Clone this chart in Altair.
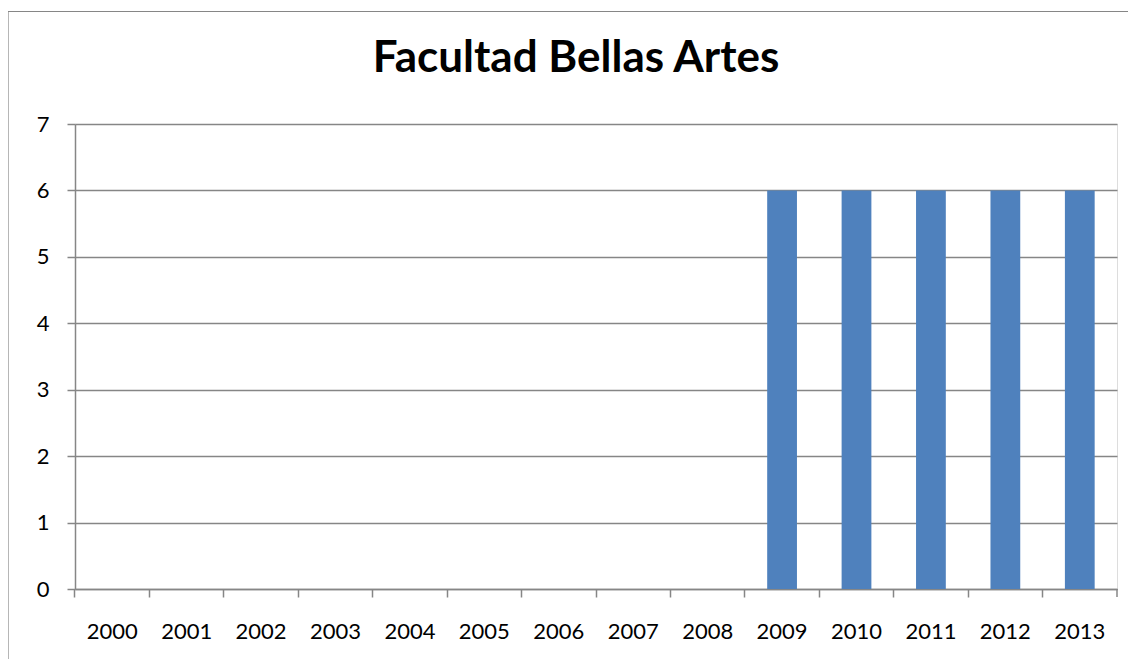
import altair as alt
import pandas as pd

years = [str(y) for y in range(2000, 2014)]
values = [0, 0, 0, 0, 0, 0, 0, 0, 0, 6, 6, 6, 6, 6]
title_text = "Facultad Bellas Artes"

df = pd.DataFrame({"year": years, "value": values})

W, H = 1042, 465
GRAY = "#868686"
LW = 1.5
FONT = "Lato"

bars = alt.Chart(df).mark_bar(color="#4F81BD").encode(
    x=alt.X("year:N", sort=years, title=None,
            scale=alt.Scale(paddingInner=0.6, paddingOuter=0.3),
            axis=alt.Axis(labelAngle=0, bandPosition=-0.75, tickSize=8, tickColor=GRAY,
                          tickWidth=LW, domainWidth=LW,
                          domainColor=GRAY, labelFont=FONT, labelFontSize=22,
                          labelColor="#000000", labelPadding=24, grid=False)),
    y=alt.Y("value:Q", title=None,
            scale=alt.Scale(domain=[0, 7], nice=False),
            axis=alt.Axis(values=list(range(0, 8)), tickSize=8, tickColor=GRAY,
                          tickWidth=LW, domainWidth=LW, gridWidth=LW,
                          domainColor=GRAY, gridColor=GRAY, gridOpacity=1,
                          labelFont=FONT, labelFontSize=22, labelColor="#000000",
                          labelPadding=18)),
)

frame = alt.Chart(alt.Data(values=[{"k": 1}])).mark_rect(
    fill=None, stroke=GRAY, strokeWidth=1.2
).encode(
    x=alt.value(-67), x2=alt.value(W + 200),
    y=alt.value(-112.5), y2=alt.value(H + 200),
)

end_tick = alt.Chart(alt.Data(values=[{"k": 1}])).mark_rule(color=GRAY, strokeWidth=LW).encode(
    x=alt.value(W), y=alt.value(H), y2=alt.value(H + 8)
)

chart = alt.layer(frame, bars, end_tick).properties(
    width=W, height=H,
    title=alt.TitleParams(title_text, font=FONT, fontSize=44, fontWeight="bold",
                          color="#000000", anchor="middle", frame="group",
                          baseline="alphabetic", dx=-20, offset=-105.5),
    autosize=alt.AutoSizeParams(type="none"),
    padding={"left": 67, "top": 116, "right": 11, "bottom": 70},
).configure_view(stroke=None).configure(background="white")

chart.save("out.html", embed_options={"renderer": "svg", "actions": False})
